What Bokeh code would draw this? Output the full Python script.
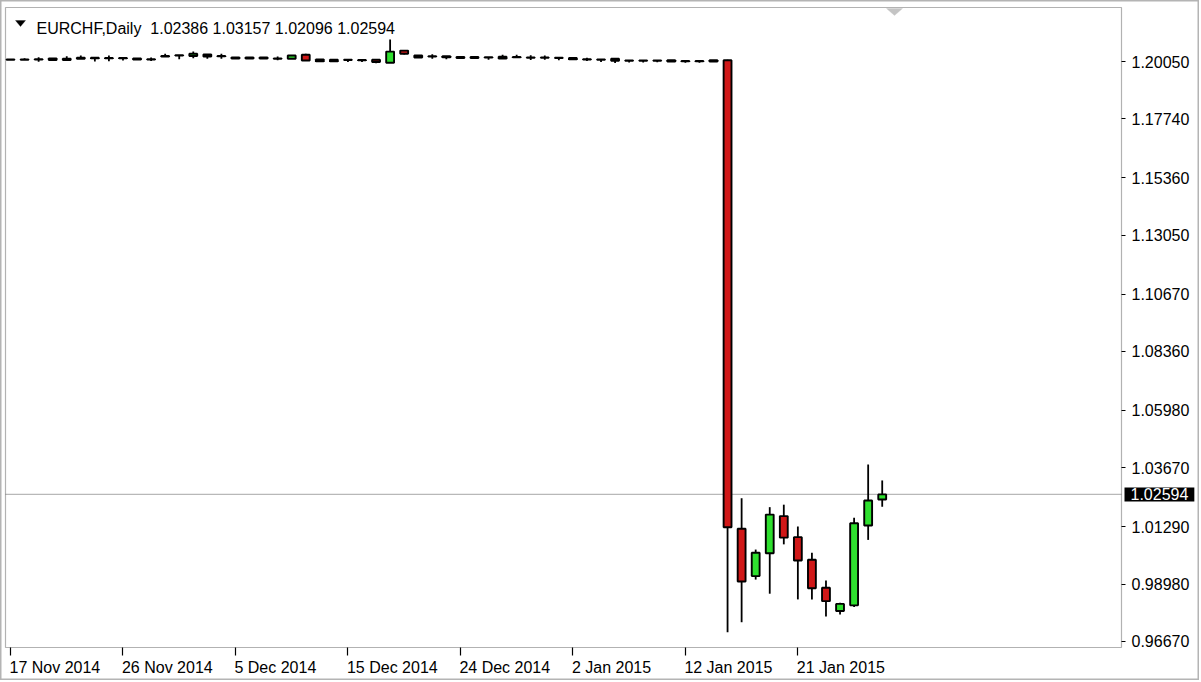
import pandas as pd
from bokeh.plotting import figure
from bokeh.core.properties import value
from bokeh.models import (Range1d, FixedTicker, PrintfTickFormatter, Label, LabelSet,
                          PolyAnnotation, BoxAnnotation, ColumnDataSource, LinearAxis)
from bokeh.embed import file_html
from bokeh.resources import INLINE

# ---------------- data ----------------
symbol = "EURCHF,Daily"
all_days = pd.date_range("2014-11-17", "2015-01-28", freq="D")
dates = [d for d in all_days if d.weekday() != 5]  # broker feed has Sunday bars, no Saturdays

open_ = [1.2012, 1.2013, 1.2013, 1.2011, 1.2011, 1.2016, 1.2020, 1.2018, 1.2019, 1.2017,
         1.2013, 1.2025, 1.2030, 1.2027, 1.2033, 1.2026, 1.2021, 1.2017, 1.2021, 1.2016,
         1.2016, 1.2032, 1.2013, 1.2006, 1.2012, 1.2011, 1.2012, 1.2000, 1.2049, 1.2029,
         1.2025, 1.2026, 1.2023, 1.2019, 1.2022, 1.2017, 1.2023, 1.2021, 1.2020, 1.2020,
         1.2019, 1.2014, 1.2013, 1.2016, 1.2009, 1.2008, 1.2009, 1.2010, 1.2007, 1.2006,
         1.2010, 1.2010, 1.0121, 0.9930, 1.0022, 1.0172, 1.0087, 0.9996, 0.9883, 0.9789,
         0.9812, 1.0134, 1.02386]
high = [1.2014, 1.2018, 1.2022, 1.2018, 1.2026, 1.2029, 1.2020, 1.2029, 1.2020, 1.2017,
        1.2021, 1.2036, 1.2030, 1.2045, 1.2033, 1.2036, 1.2021, 1.2021, 1.2022, 1.2025,
        1.2030, 1.2036, 1.2013, 1.2013, 1.2013, 1.2012, 1.2012, 1.2094, 1.2050, 1.2030,
        1.2034, 1.2026, 1.2023, 1.2023, 1.2022, 1.2032, 1.2032, 1.2030, 1.2029, 1.2020,
        1.2019, 1.2020, 1.2013, 1.2016, 1.2009, 1.2010, 1.2009, 1.2010, 1.2008, 1.2008,
        1.2010, 1.2012, 1.0244, 1.0037, 1.0208, 1.0218, 1.0130, 1.0024, 0.9912, 0.9823,
        1.0165, 1.0380, 1.03157]
low = [1.2011, 1.2012, 1.2004, 1.2010, 1.2011, 1.2016, 1.2005, 1.2006, 1.2009, 1.2012,
       1.2007, 1.2025, 1.2014, 1.2018, 1.2016, 1.2016, 1.2016, 1.2016, 1.2016, 1.2010,
       1.2015, 1.2009, 1.2005, 1.2005, 1.2003, 1.2003, 1.1998, 1.1999, 1.2033, 1.2020,
       1.2016, 1.2014, 1.2018, 1.2018, 1.2012, 1.2016, 1.2021, 1.2011, 1.2012, 1.2010,
       1.2013, 1.2007, 1.2003, 1.1999, 1.2001, 1.2001, 1.2002, 1.2004, 1.2000, 1.2000,
       1.2004, 0.9704, 0.9744, 0.9916, 0.9859, 1.0058, 0.9836, 0.9836, 0.9767, 0.9775,
       0.9805, 1.0076, 1.02096]
close = [1.2013, 1.2012, 1.2014, 1.2017, 1.2016, 1.2020, 1.2018, 1.2019, 1.2018, 1.2013,
         1.2014, 1.2027, 1.2029, 1.2036, 1.2025, 1.2027, 1.2017, 1.2021, 1.2017, 1.2017,
         1.2029, 1.2009, 1.2006, 1.2012, 1.2011, 1.2010, 1.2003, 1.2045, 1.2036, 1.2021,
         1.2026, 1.2022, 1.2019, 1.2023, 1.2021, 1.2024, 1.2022, 1.2020, 1.2021, 1.2019,
         1.2014, 1.2013, 1.2012, 1.2008, 1.2008, 1.2009, 1.2008, 1.2005, 1.2006, 1.2007,
         1.2005, 1.0127, 0.9908, 1.0024, 1.0178, 1.0085, 0.9993, 0.9881, 0.9829, 0.9818,
         1.0143, 1.0235, 1.02594]
y_ticks = [1.20050, 1.17740, 1.15360, 1.13050, 1.10670, 1.08360, 1.05980,
           1.03670, 1.01290, 0.98980, 0.96670]
x_tick_idx = [0, 8, 16, 24, 32, 40, 48, 56]

# ---------------- layout (pixel geometry of the terminal window) ----------------
W, H = 1199, 680            # canvas = frame
BAR_PX = 14.06              # pixels per bar
PRICE_PX = 2480.0           # pixels per price unit
X0 = -10 / BAR_PX           # bar 0 sits 10px from the left edge
Y1 = 1.2005 + 61 / PRICE_PX  # 1.20050 sits 61px from the top
X1 = X0 + W / BAR_PX
Y0 = Y1 - H / PRICE_PX


def xd(px):
    return X0 + px / BAR_PX


def yd(py):
    return Y1 - py / PRICE_PX


BOX_L, BOX_R, BOX_T, BOX_B = 5, 1121, 7, 647
FONT = "Liberation Sans"
BULL, BEAR = "#2fe02f", "#d01818"

idx = list(range(len(close)))
src = ColumnDataSource(dict(
    x=idx, high=high, low=low,
    top=[max(o, c) for o, c in zip(open_, close)],
    bottom=[min(o, c) for o, c in zip(open_, close)],
    color=[BULL if c >= o else BEAR for o, c in zip(open_, close)],
))

p = figure(frame_width=W, frame_height=H,
           x_range=Range1d(X0, X1), y_range=Range1d(Y0, Y1),
           output_backend="svg", toolbar_location=None,
           x_axis_location=None, y_axis_location=None,
           min_border_left=0, min_border_top=0, min_border_right=0, min_border_bottom=0)
p.background_fill_color = "white"
p.border_fill_color = "white"
p.outline_line_color = "#b4b4b4"
p.outline_line_width = 2
p.xgrid.visible = False
p.ygrid.visible = False

# chart box
p.add_layout(BoxAnnotation(left=xd(BOX_L), right=xd(BOX_R), top=yd(BOX_T), bottom=yd(BOX_B),
                           fill_alpha=0, line_color="black", line_width=1.2, level="underlay"))

# last-price line
p.segment(x0=[xd(BOX_L)], x1=[xd(BOX_R)], y0=[close[-1]], y1=[close[-1]],
          line_color="#b8b8b8", line_width=1.3, level="underlay")

# candles
p.segment(x0="x", y0="low", x1="x", y1="high", source=src, line_color="black", line_width=1.8)
p.vbar(x="x", width=0.56, top="top", bottom="bottom", source=src,
       fill_color="color", line_color="black", line_width=1.9)

# price axis (right side of the chart box)
ya = LinearAxis(fixed_location=xd(BOX_R), ticker=FixedTicker(ticks=y_ticks),
                formatter=PrintfTickFormatter(format="%.5f"))
ya.major_label_text_font = FONT
ya.major_label_text_font_size = "16px"
ya.major_label_text_color = "black"
ya.major_tick_out = 4
ya.major_tick_in = 0
ya.minor_tick_out = 0
ya.minor_tick_in = 0
ya.major_label_standoff = 6
ya.axis_line_color = None
ya.major_tick_line_color = "black"
p.add_layout(ya, "right")

# time axis (ticks only; labels are left-aligned at the ticks like the terminal draws them)
xa = LinearAxis(fixed_location=yd(BOX_B), ticker=FixedTicker(ticks=x_tick_idx))
xa.major_label_overrides = {i: "" for i in x_tick_idx}
xa.major_tick_out = 8
xa.major_tick_in = 0
xa.minor_tick_out = 0
xa.minor_tick_in = 0
xa.axis_line_color = None
xa.major_tick_line_color = "black"
xa.major_tick_line_width = 1.2
p.add_layout(xa, "below")

lab_src = ColumnDataSource(dict(
    x=x_tick_idx,
    y=[yd(672.5)] * len(x_tick_idx),
    text=[f"{dates[i].day} {dates[i].strftime('%b %Y')}" for i in x_tick_idx],
))
p.add_layout(LabelSet(x="x", y="y", text="text", source=lab_src, x_offset=-1,
                      text_font=value(FONT), text_font_size=value("16px"), text_color="black",
                      text_align="left", text_baseline="alphabetic"))

# header
p.add_layout(PolyAnnotation(xs=[xd(15), xd(25), xd(20)], ys=[yd(20), yd(20), yd(26)],
                            fill_color="black", fill_alpha=1.0, line_color="black"))
p.add_layout(Label(x=xd(36), y=yd(28.3),
                   text=f"{symbol}\u00a0\u00a0{open_[-1]:.5f} {high[-1]:.5f} {low[-1]:.5f} {close[-1]:.5f}",
                   text_font=FONT, text_font_size="16px", text_color="black",
                   text_baseline="alphabetic"))

# chart-shift marker
p.add_layout(PolyAnnotation(xs=[xd(886), xd(902), xd(894)], ys=[yd(8), yd(8), yd(15)],
                            fill_color="#c4c4c4", fill_alpha=1.0, line_color="#c4c4c4"))

# last price box
p.add_layout(Label(x=xd(BOX_R + 3), y=close[-1], text=f"{close[-1]:.5f}",
                   text_font=FONT, text_font_size="16px", text_color="white",
                   text_baseline="middle", background_fill_color="black",
                   padding=[6, 1]))

open("out.html", "w").write(file_html(p, INLINE))
